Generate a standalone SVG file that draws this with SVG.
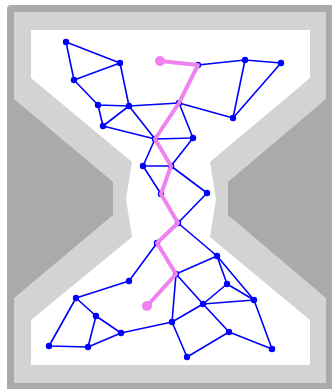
<svg xmlns="http://www.w3.org/2000/svg" width="332" height="389" viewBox="0 0 332 389">
<style>
.e{stroke:#0000ff;stroke-width:1.6;fill:none}
.n{fill:#0000ff}
.p{stroke:#ee82ee;stroke-width:4;fill:none;stroke-linejoin:round;stroke-linecap:round}
</style>
<g id="frame">
<rect x="7" y="5" width="330" height="390" rx="4" fill="#aaaaaa"/>
<polygon fill="#d3d3d3" points="14,12 326,12 326,99 228,182 228,215 326,298 326,383 14,383 14,298 113,215 113,182 14,99"/>
<polygon fill="#ffffff" points="31,30 310,30 310,78 210,162 216,199 210,237 310,320 310,365 31,365 31,320 132,237 126,199 132,162 31,78"/>
</g>
<g id="connectors">
<path class="e" d="M66,42L120,63M66,42L74,80M74,80L120,63M74,80L98,105M120,63L129,106M98,105L129,106M98,105L103,126M129,106L103,126M129,106L179,103M129,106L155,139M103,126L155,139M179,103L193,138M155,139L193,138M179,103L233,118M198,65L245,60M245,60L281,63M245,60L233,118M281,63L233,118M198,65L179,103M179,103L155,139"/>
<path class="e" d="M155,139L143,166M143,166L171,166M193,138L171,166M155,139L171,166M171,166L207,193M143,166L161,194M171,166L161,194M161,194L178,223M207,193L178,223M178,223L157,243M157,243L129,281M157,243L176,274M176,274L217,256M178,223L217,256M217,256L227,284M217,256L254,300"/>
<path class="e" d="M129,281L76,298M76,298L49,346M76,298L96,316M96,316L88,347M96,316L121,333M49,346L88,347M88,347L121,333M121,333L172,322M176,274L172,322M176,274L203,304M227,284L203,304M227,284L254,300M203,304L254,300M203,304L172,322M203,304L229,332M172,322L187,357M187,357L229,332M229,332L272,349M254,300L272,349"/>
</g>
<g id="nodes">
<circle class="n" cx="66" cy="42" r="3.2"/>
<circle class="n" cx="120" cy="63" r="3.2"/>
<circle class="n" cx="74" cy="80" r="3.2"/>
<circle class="n" cx="98" cy="105" r="3.2"/>
<circle class="n" cx="129" cy="106" r="3.2"/>
<circle class="n" cx="103" cy="126" r="3.2"/>
<circle class="n" cx="198" cy="65" r="3.2"/>
<circle class="n" cx="245" cy="60" r="3.2"/>
<circle class="n" cx="281" cy="63" r="3.2"/>
<circle class="n" cx="233" cy="118" r="3.2"/>
<circle class="n" cx="179" cy="103" r="3.2"/>
<circle class="n" cx="155" cy="139" r="3.2"/>
<circle class="n" cx="193" cy="138" r="3.2"/>
<circle class="n" cx="143" cy="166" r="3.2"/>
<circle class="n" cx="171" cy="166" r="3.2"/>
<circle class="n" cx="161" cy="194" r="3.2"/>
<circle class="n" cx="207" cy="193" r="3.2"/>
<circle class="n" cx="178" cy="223" r="3.2"/>
<circle class="n" cx="157" cy="243" r="3.2"/>
<circle class="n" cx="217" cy="256" r="3.2"/>
<circle class="n" cx="176" cy="274" r="3.2"/>
<circle class="n" cx="129" cy="281" r="3.2"/>
<circle class="n" cx="227" cy="284" r="3.2"/>
<circle class="n" cx="76" cy="298" r="3.2"/>
<circle class="n" cx="96" cy="316" r="3.2"/>
<circle class="n" cx="49" cy="346" r="3.2"/>
<circle class="n" cx="88" cy="347" r="3.2"/>
<circle class="n" cx="121" cy="333" r="3.2"/>
<circle class="n" cx="172" cy="322" r="3.2"/>
<circle class="n" cx="203" cy="304" r="3.2"/>
<circle class="n" cx="254" cy="300" r="3.2"/>
<circle class="n" cx="229" cy="332" r="3.2"/>
<circle class="n" cx="187" cy="357" r="3.2"/>
<circle class="n" cx="272" cy="349" r="3.2"/>
</g>
<g id="path">
<polyline class="p" points="160,61 198,65 179,103 155,139 171,166 161,194 178,223 157,243 176,274 147,306"/>
<circle cx="160" cy="61" r="5" fill="#ee82ee"/>
<circle cx="147" cy="306" r="5" fill="#ee82ee"/>
</g>
</svg>
